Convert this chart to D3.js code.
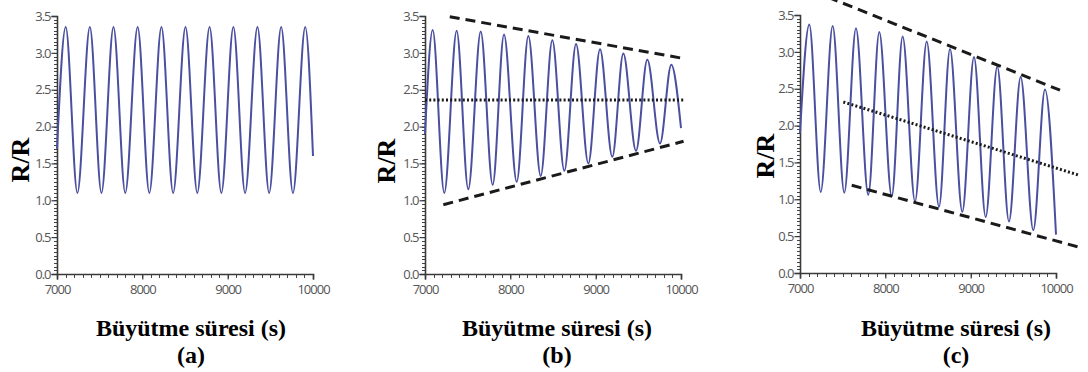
<!DOCTYPE html>
<html>
<head>
<meta charset="utf-8">
<script src="https://cdn.jsdelivr.net/npm/d3@7"></script>
<style>
  html, body { margin: 0; padding: 0; background: #fff; }
  svg { display: block; }
</style>
</head>
<body>
<svg id="chart" width="1088" height="372"></svg>
<script>
// ---------- data ----------
const xTicks = [7000, 8000, 9000, 10000];
const yTicks = [0, 0.5, 1.0, 1.5, 2.0, 2.5, 3.0, 3.5];
const xTitle = "Büyütme süresi (s)";
const yTitle = "R/R";
const panelLabels = ["(a)", "(b)", "(c)"];

// panel (a) – constant amplitude
const timeA = [7000, 7102, 7239, 7385, 7521, 7662, 7800, 7945, 8082, 8224, 8361, 8506, 8644, 8788, 8926, 9067, 9204, 9349, 9486, 9627, 9765, 9909, 10000];
const valueA = [1.70, 3.35, 1.10, 3.35, 1.10, 3.35, 1.10, 3.35, 1.10, 3.35, 1.10, 3.35, 1.10, 3.35, 1.10, 3.35, 1.10, 3.35, 1.10, 3.35, 1.10, 3.35, 1.60];

// panel (b) – converging amplitude
const timeB = [7000, 7090, 7226, 7371, 7507, 7653, 7793, 7926, 8075, 8211, 8356, 8492, 8633, 8770, 8914, 9051, 9195, 9324, 9473, 9605, 9754, 9886, 10000];
const valueB = [1.90, 3.31, 1.10, 3.30, 1.15, 3.29, 1.21, 3.25, 1.25, 3.23, 1.33, 3.17, 1.40, 3.12, 1.50, 3.05, 1.59, 2.99, 1.67, 2.91, 1.77, 2.84, 1.98];

// panel (c) – drifting downward
const timeC = [7000, 7109, 7243, 7383, 7519, 7656, 7800, 7929, 8075, 8203, 8348, 8485, 8629, 8758, 8902, 9039, 9176, 9312, 9449, 9586, 9734, 9871, 10000];
const valueC = [1.90, 3.37, 1.10, 3.35, 1.09, 3.32, 1.06, 3.27, 1.04, 3.21, 0.97, 3.14, 0.90, 3.04, 0.83, 2.93, 0.76, 2.80, 0.70, 2.66, 0.58, 2.49, 0.52];

// guide lines
const bUpperT = [7290, 10000], bUpperV = [3.49, 2.93];
const bLowerT = [7215, 10030], bLowerV = [0.94, 1.80];
const bMidT = [7000, 10040], bMidV = [2.36, 2.36];
const cUpperT = [7330, 10047], cUpperV = [3.74, 2.48];
const cLowerT = [7606, 10320], cLowerV = [1.19, 0.335];
const cMidT = [7508, 10261], cMidV = [2.32, 1.33];

// ---------- layout ----------
const svg = d3.select("#chart");
const panels = [
  { x0: 57,  top: 16, bottom: 274, t: timeA, v: valueA, guides: [], titleY: 160, titleX: 29, xTitleCx: 191 },
  { x0: 425, top: 16, bottom: 274, t: timeB, v: valueB,
    guides: [
      { t: bUpperT, v: bUpperV, type: "dash" },
      { t: bLowerT, v: bLowerV, type: "dash" },
      { t: bMidT, v: bMidV, type: "dot" }
    ], titleY: 161, titleX: 395, xTitleCx: 557 },
  { x0: 800, top: 15, bottom: 273, t: timeC, v: valueC,
    guides: [
      { t: cUpperT, v: cUpperV, type: "dash" },
      { t: cLowerT, v: cLowerV, type: "dash" },
      { t: cMidT, v: cMidV, type: "dot" }
    ], titleY: 156, titleX: 774, xTitleCx: 956 }
];

const axisColor = "#3a3a3a";
const labelColor = "#555555";
const curveColor = "#4a4f9f";

panels.forEach((p, i) => {
  const g = svg.append("g");
  const x = d3.scaleLinear().domain([7000, 10000]).range([p.x0, p.x0 + 256]);
  const y = d3.scaleLinear().domain([0, 3.5]).range([p.bottom, p.top]);

  // minor ticks
  const yMinor = d3.range(0, 3.5001, 0.05);
  const xMinor = d3.range(7000, 10001, 100);
  const gyMinor = g.append("g").attr("transform", `translate(${p.x0},0)`)
    .call(d3.axisLeft(y).tickValues(yMinor).tickSize(3.5).tickFormat(""));
  const gxMinor = g.append("g").attr("transform", `translate(0,${p.bottom})`)
    .call(d3.axisBottom(x).tickValues(xMinor).tickSize(3.5).tickFormat(""));
  [gyMinor, gxMinor].forEach(a => {
    a.select(".domain").remove();
    a.selectAll("line").attr("stroke", "#444").attr("stroke-width", 1)
      .attr("shape-rendering", "crispEdges");
  });

  // major axes
  const gy = g.append("g").attr("transform", `translate(${p.x0},0)`)
    .call(d3.axisLeft(y).tickValues(yTicks).tickSize(5.5).tickPadding(1).tickFormat(d3.format(".1f")));
  const gx = g.append("g").attr("transform", `translate(0,${p.bottom})`)
    .call(d3.axisBottom(x).tickValues(xTicks).tickSize(5.5).tickPadding(5).tickFormat(d3.format("d")));
  [gy, gx].forEach(a => {
    a.select(".domain").attr("stroke", axisColor).attr("stroke-width", 1.6);
    a.selectAll("line").attr("stroke", axisColor).attr("stroke-width", 1.2);
    a.selectAll("text")
      .attr("fill", labelColor)
      .style("font-family", "'Open Sans', 'Noto Sans', sans-serif")
      .style("font-size", "13px")
      .style("letter-spacing", "-1px");
  });

  // curve
  const pts = p.t.map((t, k) => [t, p.v[k]]);
  g.append("path")
    .datum(pts)
    .attr("fill", "none")
    .attr("stroke", curveColor)
    .attr("stroke-width", 2)
    .attr("d", d3.line().x(d => x(d[0])).y(d => y(d[1])).curve(d3.curveMonotoneX));

  // guides
  p.guides.forEach(gd => {
    const gp = gd.t.map((t, k) => [t, gd.v[k]]);
    g.append("path")
      .datum(gp)
      .attr("fill", "none")
      .attr("stroke", "#1a1a1a")
      .attr("stroke-width", 3)
      .attr("stroke-dasharray", gd.type === "dash" ? "10,6" : "2,2.2")
      .attr("d", d3.line().x(d => x(d[0])).y(d => y(d[1])));
  });

  // y title
  g.append("text")
    .attr("transform", `translate(${p.titleX},${p.titleY}) rotate(-90)`)
    .attr("text-anchor", "middle")
    .style("font-family", "'Liberation Serif', 'Times New Roman', serif")
    .style("font-weight", "bold")
    .style("font-size", "26px")
    .attr("fill", "#000")
    .text(yTitle);

  // x title and panel label
  g.append("text")
    .attr("x", p.xTitleCx).attr("y", 336)
    .attr("text-anchor", "middle")
    .style("font-family", "'Liberation Serif', 'Times New Roman', serif")
    .style("font-weight", "bold")
    .style("font-size", "24px")
    .attr("fill", "#000")
    .text(xTitle);
  g.append("text")
    .attr("x", p.xTitleCx).attr("y", 363)
    .attr("text-anchor", "middle")
    .style("font-family", "'Liberation Serif', 'Times New Roman', serif")
    .style("font-weight", "bold")
    .style("font-size", "24px")
    .attr("fill", "#000")
    .text(panelLabels[i]);
});
</script>
</body>
</html>
